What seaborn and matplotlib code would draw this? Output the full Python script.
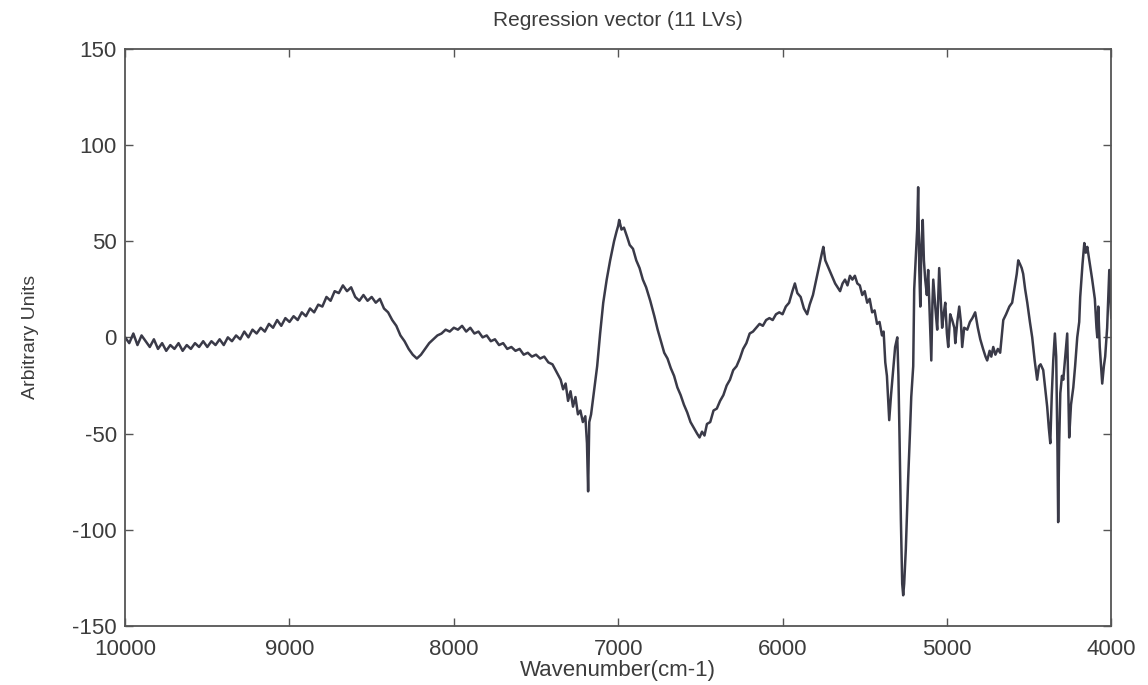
#Libraries
import matplotlib
matplotlib.use("Agg")
import matplotlib.pyplot as plt
import seaborn as sns

#Wavenumber (cm-1) and regression coefficient
wavenumber = [
    10000, 9975, 9950, 9925, 9900, 9875, 9850, 9825, 9800, 9775, 9750, 9725, 9700, 9675, 9650,
    9625, 9600, 9575, 9550, 9525, 9500, 9475, 9450, 9425, 9400, 9375, 9350, 9325, 9300, 9275,
    9250, 9225, 9200, 9175, 9150, 9125, 9100, 9075, 9050, 9025, 9000,
    8975, 8950, 8925, 8900, 8875, 8850, 8825, 8800, 8775, 8750, 8725, 8700, 8675, 8650, 8625,
    8600, 8575, 8550, 8525, 8500, 8475, 8450, 8425, 8400, 8375, 8350, 8325, 8300, 8275, 8250,
    8225, 8200, 8175, 8150, 8125, 8100, 8075, 8050, 8025, 8000,
    7975, 7950, 7925, 7900, 7875, 7850, 7825, 7800, 7775, 7750, 7725, 7700, 7675, 7650, 7625,
    7600, 7575, 7550, 7525, 7500, 7475, 7450, 7425, 7400, 7375, 7350, 7335, 7320, 7305, 7290,
    7275, 7260, 7245, 7230, 7215, 7200, 7190, 7183, 7176, 7165, 7150, 7128, 7110, 7091, 7070,
    7049, 7025, 7010, 7000, 6994, 6980, 6965, 6945, 6930, 6910, 6890, 6870, 6850, 6830, 6805,
    6780, 6760, 6740, 6720, 6700, 6680, 6660, 6640, 6620, 6600, 6580, 6560, 6540, 6520, 6505,
    6490, 6475, 6460, 6440, 6420, 6400, 6380, 6360, 6340, 6320, 6300, 6280, 6260, 6240, 6220,
    6200, 6180, 6160, 6140, 6120, 6100, 6080, 6060, 6040, 6020, 6000, 5980, 5960, 5940, 5925,
    5910, 5890, 5870, 5850, 5835, 5815, 5795, 5775, 5760, 5752, 5740, 5725, 5710, 5695, 5680,
    5665, 5650, 5635, 5620, 5605, 5590, 5575, 5560, 5545, 5530, 5515, 5500, 5485, 5470, 5455,
    5440, 5425, 5410, 5395, 5385, 5375, 5365, 5351, 5340, 5327, 5315, 5302, 5295, 5288, 5280,
    5272, 5266, 5260, 5250, 5236, 5225, 5217, 5205, 5199, 5190, 5181, 5175, 5168, 5162, 5155,
    5147, 5140, 5132, 5122, 5114, 5104, 5095, 5088, 5083, 5070, 5059, 5047, 5038, 5029, 5020,
    5010, 5000, 4992, 4980, 4968, 4955, 4949, 4937, 4925, 4915, 4907, 4895, 4876, 4860, 4845,
    4828, 4812, 4797, 4780, 4765, 4755, 4740, 4730, 4718, 4705, 4690, 4676, 4665, 4657, 4640,
    4620, 4603, 4590, 4575, 4566, 4555, 4545, 4536, 4524, 4511, 4495, 4481, 4466, 4451, 4440,
    4430, 4414, 4400, 4390, 4380, 4371, 4362, 4353, 4343, 4335, 4327, 4323, 4317, 4310, 4300,
    4292, 4280, 4268, 4262, 4256, 4245, 4231, 4220, 4207, 4195, 4189, 4175, 4164, 4155, 4146,
    4130, 4116, 4100, 4090, 4085, 4079, 4070, 4055, 4045, 4037, 4025, 4012, 4005, 4000,
]
coef = [
    0, -3, 2, -4, 1, -2, -5, -1, -6, -3, -7, -4, -6, -3, -7,
    -4, -6, -3, -5, -2, -5, -2, -4, -1, -4, 0, -2, 1, -1, 3,
    0, 4, 2, 5, 3, 7, 5, 9, 6, 10, 8,
    11, 9, 13, 11, 15, 13, 17, 16, 21, 19, 24, 23, 27, 24, 26,
    21, 19, 22, 19, 21, 18, 20, 15, 13, 9, 6, 1, -2, -6, -9,
    -11, -9, -6, -3, -1, 1, 2, 4, 3, 5,
    4, 6, 3, 5, 2, 3, 0, 1, -2, -1, -4, -3, -6, -5, -7,
    -6, -9, -8, -10, -9, -11, -10, -13, -14, -18, -22, -27, -24, -33, -28,
    -36, -31, -40, -38, -44, -41, -55, -80, -44, -40, -30, -15, 2, 18, 30,
    40, 50, 55, 58, 61, 56, 57, 52, 48, 46, 40, 36, 30, 26, 19,
    11, 4, -2, -8, -11, -16, -20, -26, -30, -35, -39, -44, -47, -50, -52,
    -49, -51, -45, -44, -38, -37, -33, -30, -25, -22, -17, -15, -11, -6, -3,
    2, 3, 5, 7, 6, 9, 10, 9, 12, 13, 12, 16, 18, 24, 28,
    23, 21, 15, 12, 17, 22, 30, 38, 44, 47, 40, 37, 34, 31, 28,
    26, 24, 28, 30, 27, 32, 30, 32, 28, 27, 22, 24, 18, 20, 13,
    14, 7, 8, 1, 3, -13, -20, -43, -30, -17, -5, 0, -20, -53, -95,
    -128, -134, -128, -110, -74, -50, -31, -15, 25, 40, 56, 78, 35, 16, 48,
    61, 40, 30, 22, 35, 10, -12, 18, 30, 15, 4, 36, 20, 5, 12,
    18, 2, -5, 12, 9, 5, -3, 8, 16, 8, -5, 5, 4, 8, 10,
    13, 5, -1, -6, -10, -12, -7, -10, -5, -9, -6, -8, 2, 9, 12,
    16, 18, 25, 33, 40, 38, 36, 33, 25, 18, 8, 0, -12, -22, -15,
    -14, -17, -28, -36, -47, -55, -30, -12, 2, -10, -60, -96, -55, -29, -20,
    -22, -10, 2, -25, -52, -35, -26, -15, 0, 8, 21, 38, 49, 44, 47,
    38, 30, 20, 5, 0, 16, -5, -24, -15, -10, 5, 35, 20, 10,
]

#Tick positions
xticks = [10000, 9000, 8000, 7000, 6000, 5000, 4000]
yticks = [-150, -100, -50, 0, 50, 100, 150]

sns.set_theme(style="white")
plt.rcParams['font.family'] = ['Liberation Sans', 'DejaVu Sans']
plt.rcParams['axes.unicode_minus'] = False

fig = plt.figure(figsize=(11.48, 6.85), dpi=100)
ax = fig.add_axes([0.109, 0.086, 0.859, 0.843])

sns.lineplot(x=wavenumber, y=coef, ax=ax, color="#3a3a48", linewidth=1.8,
             estimator=None)

ax.set_xlim(10000, 4000)
ax.set_ylim(-150, 150)
ax.set_xticks(xticks)
ax.set_yticks(yticks)

#Inward ticks on all four sides, like the old plot
ax.tick_params(direction="in", length=6, width=1, color="#555555",
               top=True, right=True, bottom=True, left=True,
               labelsize=16, labelcolor="#3c3c3c")
ax.tick_params(axis="x", pad=9)
ax.tick_params(axis="y", pad=6)
for side in ax.spines.values():
    side.set_color("#555555")
    side.set_linewidth(1.3)

ax.set_title("Regression vector (11 LVs)", fontsize=15, color="#3c3c3c", pad=16)
ax.set_xlabel("Wavenumber(cm-1)", fontsize=16, color="#3c3c3c", labelpad=0)
ax.set_ylabel("Arbitrary Units", fontsize=14, color="#3c3c3c", labelpad=24)

fig.savefig("out.png", dpi=100, facecolor="white")
